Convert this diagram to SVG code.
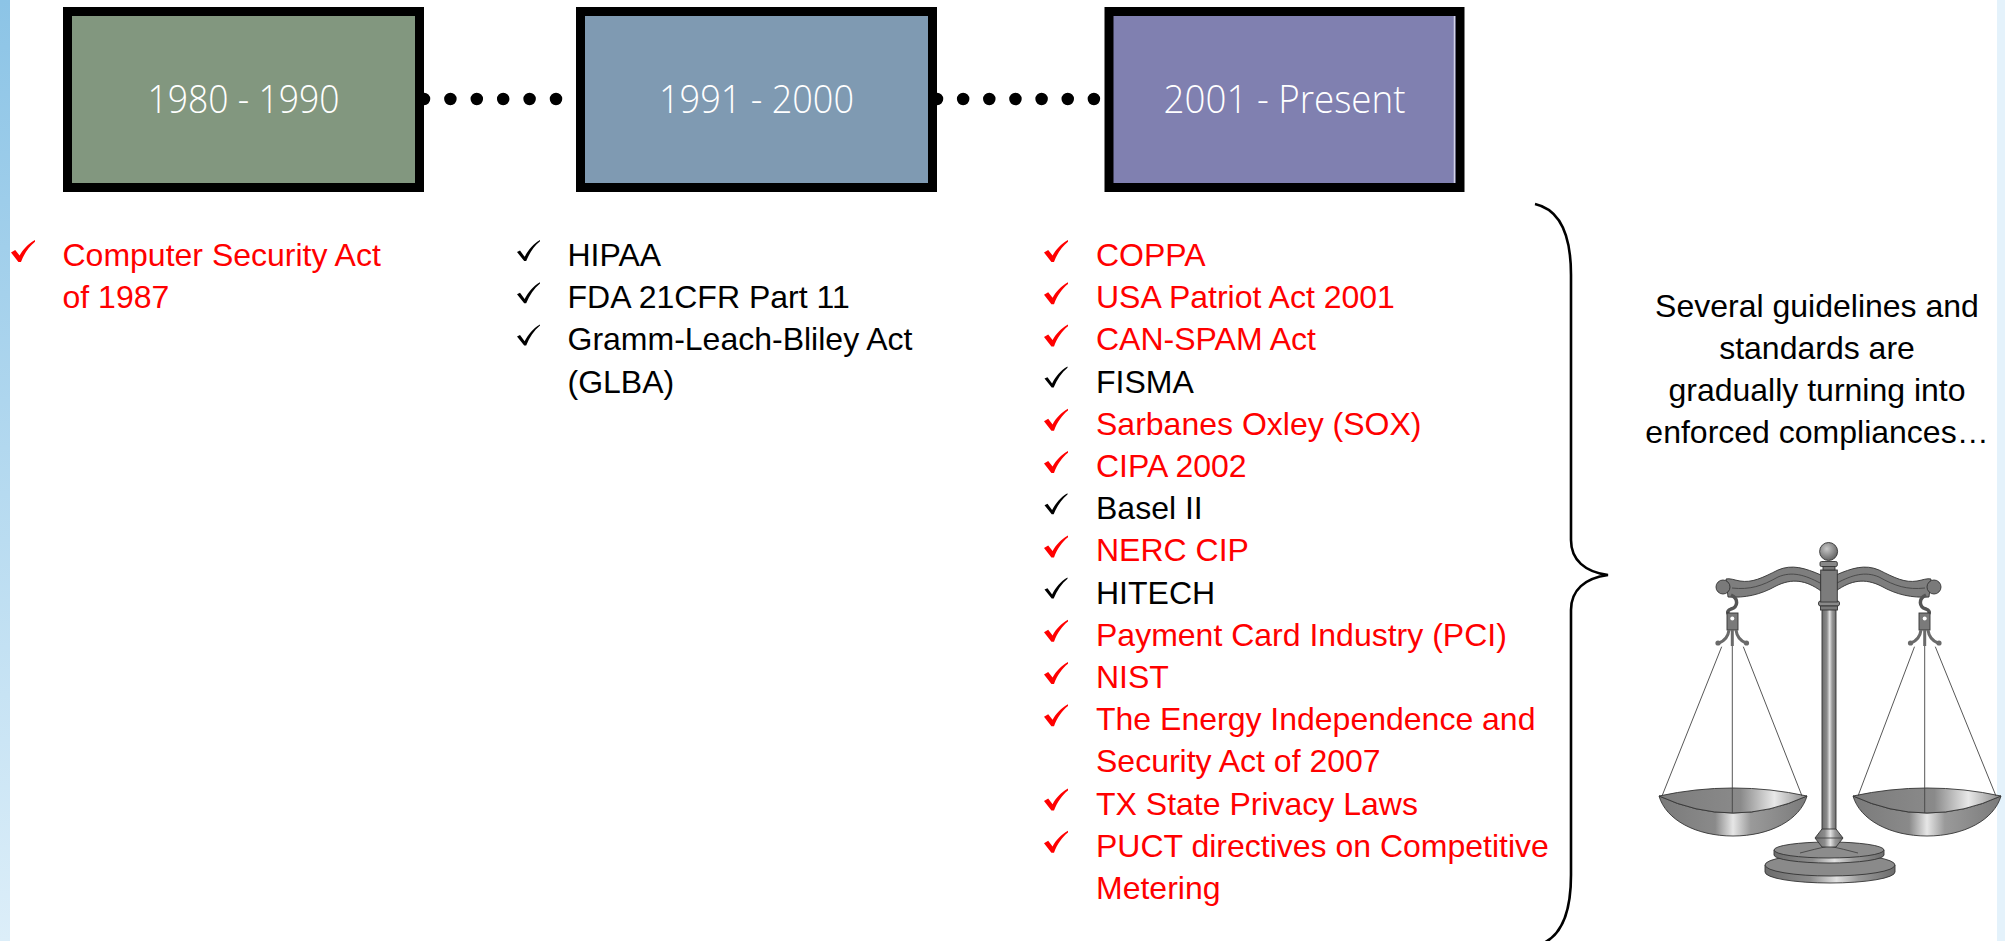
<svg xmlns="http://www.w3.org/2000/svg" width="2005" height="941" viewBox="0 0 2005 941">
<style>
.box{stroke:#000;stroke-width:9}
.hdr{font-family:"Open Sans","Liberation Sans",Arial,sans-serif;font-weight:300;font-size:39px;fill:#fff;text-anchor:middle}
.it{font-family:"Liberation Sans",Arial,sans-serif;font-size:32px}
.red{fill:#ff0000}
.blk{fill:#000}
.note{font-family:"Liberation Sans",Arial,sans-serif;font-size:32px;fill:#000;text-anchor:middle}
.dots{stroke:#000;stroke-width:12.5;stroke-linecap:round;fill:none}
.ol{stroke:#333;stroke-width:0.9}
.str{stroke:#444;stroke-width:0.9;fill:none}
</style>
<defs>
<linearGradient id="edge" x1="0" y1="0" x2="0" y2="1">
<stop offset="0" stop-color="#8cc4e6"/><stop offset="1" stop-color="#dceef9"/>
</linearGradient>
<path id="ckr" d="M0,12.5 L4.2,10 L8.6,15.6 C12,9.5 17,3.8 24,0 L24,1.8 C18,6.5 13.2,13.5 10,22 L7.4,22 Z" fill="#ff0000"/>
<path id="ckk" d="M0,12 L3,10.6 L7.6,16.8 C11.5,10 16,4 23,0 L23,1.2 C17,6 12.5,13 9.2,21 L7.2,21 Z" fill="#000"/>
<linearGradient id="metal" x1="0" y1="0" x2="1" y2="0">
<stop offset="0" stop-color="#6c6c6c"/><stop offset="0.35" stop-color="#8c8c8c"/><stop offset="0.55" stop-color="#e2e2e2"/><stop offset="0.72" stop-color="#9a9a9a"/><stop offset="1" stop-color="#6c6c6c"/>
</linearGradient>
<linearGradient id="bowl" x1="0" y1="0" x2="1" y2="0">
<stop offset="0" stop-color="#7a7a7a"/><stop offset="0.38" stop-color="#8a8a8a"/><stop offset="0.5" stop-color="#e6e6e6"/><stop offset="0.62" stop-color="#9a9a9a"/><stop offset="1" stop-color="#7a7a7a"/>
</linearGradient>
<linearGradient id="ptop" x1="0" y1="0" x2="1" y2="0">
<stop offset="0" stop-color="#7c7c7c"/><stop offset="0.55" stop-color="#8a8a8a"/><stop offset="0.78" stop-color="#e8e8e8"/><stop offset="1" stop-color="#8a8a8a"/>
</linearGradient>
<radialGradient id="ballg" cx="0.4" cy="0.35" r="0.7">
<stop offset="0" stop-color="#c8c8c8"/><stop offset="1" stop-color="#5e5e5e"/>
</radialGradient>
<g id="pan">
<path d="M-74,796 Q0,830 74,796 C67,820 37,836 0,836 C-37,836 -67,820 -74,796 Z" fill="url(#bowl)" class="ol"/>
<path d="M-74,796 Q0,780 74,796 Q0,830 -74,796 Z" fill="url(#ptop)" class="ol"/>
</g>
<g id="arm">
<path d="M1821,575 C1805,568 1792,564 1778,570 C1762,578 1752,583 1740,581 C1734,580 1730,578 1726,579 L1728,597 C1745,598 1760,595 1776,586 C1792,578 1806,580 1821,591 Z" fill="#7e7e7e" class="ol"/>
<path d="M1820,583 C1805,575 1792,571 1778,577 C1762,586 1750,590 1732,588" class="str"/>
<circle cx="1723" cy="587" r="7" fill="#7a7a7a" class="ol"/>
<path d="M1731,595 C1739,599 1738,607 1731,609 C1726,611 1727,615 1732,615" fill="none" stroke="#555" stroke-width="3.5"/>
<rect x="1727" y="613" width="11" height="17" fill="#7a7a7a" class="ol"/>
<circle cx="1732.3" cy="618.5" r="2" fill="#fff"/>
<path d="M1729,630 C1728,638 1724,641 1719,643 M1736,630 C1737,638 1741,641 1746,643 M1732.3,630 L1732.3,646" fill="none" stroke="#6a6a6a" stroke-width="3"/>
<circle cx="1718" cy="643" r="2.6" fill="#6a6a6a"/>
<circle cx="1746.5" cy="643" r="2.6" fill="#6a6a6a"/>
</g>
</defs>

<rect x="0" y="0" width="2005" height="941" fill="#fff"/>
<rect x="0" y="0" width="10" height="941" fill="url(#edge)"/>
<rect x="1997" y="0" width="8" height="941" fill="#e4f2fb"/>

<g id="connectors">
<line class="dots" x1="424" y1="99" x2="556.5" y2="99" stroke-dasharray="0 26.4"/>
<line class="dots" x1="937" y1="99" x2="1094.5" y2="99" stroke-dasharray="0 26.15"/>
<path id="brace" d="M1535,204 C1562,210 1571,240 1571,275 L1571,540 C1571,560 1585,572 1608,575 C1585,578 1571,590 1571,610 L1571,875 C1571,910 1562,940 1535,946" fill="none" stroke="#000" stroke-width="2.6"/>
</g>

<g id="node-1980">
<rect class="box" x="67.5" y="11.5" width="352" height="176" fill="#82977f"/>
<text class="hdr" x="243.5" y="113" textLength="192" lengthAdjust="spacingAndGlyphs">1980 - 1990</text>
</g>
<g id="node-1991">
<rect class="box" x="580.5" y="11.5" width="352" height="176" fill="#7f9ab2"/>
<text class="hdr" x="756.5" y="113" textLength="195" lengthAdjust="spacingAndGlyphs">1991 - 2000</text>
</g>
<g id="node-2001">
<rect class="box" x="1109" y="11.5" width="351" height="176" fill="#8080b0"/>
<line x1="1454.5" y1="16" x2="1454.5" y2="183" stroke="#d4d4ea" stroke-width="1.5"/>
<text class="hdr" x="1284.5" y="113" textLength="242" lengthAdjust="spacingAndGlyphs">2001 - Present</text>
</g>

<g id="list-1980">
<use href="#ckr" x="11" y="240"/>
<text class="it red" x="62.5" y="266">Computer Security Act</text>
<text class="it red" x="62.5" y="308.2">of 1987</text>
</g>

<g id="list-1991">
<use href="#ckk" x="517" y="240"/>
<use href="#ckk" x="517" y="282.2"/>
<use href="#ckk" x="517" y="324.4"/>
<text class="it blk" x="567.5" y="266">HIPAA</text>
<text class="it blk" x="567.5" y="308.2">FDA 21CFR Part 11</text>
<text class="it blk" x="567.5" y="350.4">Gramm-Leach-Bliley Act</text>
<text class="it blk" x="567.5" y="392.6">(GLBA)</text>
</g>

<g id="list-2001">
<use href="#ckr" x="1044" y="240"/>
<use href="#ckr" x="1044" y="282.2"/>
<use href="#ckr" x="1044" y="324.4"/>
<use href="#ckk" x="1044.5" y="366.6"/>
<use href="#ckr" x="1044" y="408.8"/>
<use href="#ckr" x="1044" y="451"/>
<use href="#ckk" x="1044.5" y="493.2"/>
<use href="#ckr" x="1044" y="535.4"/>
<use href="#ckk" x="1044.5" y="577.6"/>
<use href="#ckr" x="1044" y="619.8"/>
<use href="#ckr" x="1044" y="662"/>
<use href="#ckr" x="1044" y="704.2"/>
<use href="#ckr" x="1044" y="788.6"/>
<use href="#ckr" x="1044" y="830.8"/>
<text class="it red" x="1096" y="266">COPPA</text>
<text class="it red" x="1096" y="308.2">USA Patriot Act 2001</text>
<text class="it red" x="1096" y="350.4">CAN-SPAM Act</text>
<text class="it blk" x="1096" y="392.6">FISMA</text>
<text class="it red" x="1096" y="434.8">Sarbanes Oxley (SOX)</text>
<text class="it red" x="1096" y="477">CIPA 2002</text>
<text class="it blk" x="1096" y="519.2">Basel II</text>
<text class="it red" x="1096" y="561.4">NERC CIP</text>
<text class="it blk" x="1096" y="603.6">HITECH</text>
<text class="it red" x="1096" y="645.8">Payment Card Industry (PCI)</text>
<text class="it red" x="1096" y="688">NIST</text>
<text class="it red" x="1096" y="730.2">The Energy Independence and</text>
<text class="it red" x="1096" y="772.4">Security Act of 2007</text>
<text class="it red" x="1096" y="814.6">TX State Privacy Laws</text>
<text class="it red" x="1096" y="856.8">PUCT directives on Competitive</text>
<text class="it red" x="1096" y="899">Metering</text>
</g>

<g id="note">
<text class="note" x="1817" y="317">Several guidelines and</text>
<text class="note" x="1817" y="359">standards are</text>
<text class="note" x="1817" y="401">gradually turning into</text>
<text class="note" x="1817" y="443">enforced compliances…</text>
</g>

<g id="scales">
<path d="M1765,865 L1765,872 A65,11 0 0 0 1895,872 L1895,865 Z" fill="url(#metal)" class="ol"/>
<ellipse cx="1830" cy="865" rx="65" ry="11" fill="#8a8a8a" class="ol"/>
<path d="M1774,850 L1774,855 A55,8 0 0 0 1884,855 L1884,850 Z" fill="url(#metal)" class="ol"/>
<ellipse cx="1829" cy="850" rx="55" ry="8" fill="#8c8c8c" class="ol"/>
<path d="M1800,853 Q1815,849 1829,846 Q1843,849 1858,853" class="str"/>
<rect x="1822" y="606" width="14" height="225" fill="url(#metal)" class="ol"/>
<path d="M1815,838 L1822,829 L1836,829 L1843,838 L1836,847 L1822,847 Z" fill="url(#metal)" class="ol"/>
<line x1="1815" y1="838" x2="1843" y2="838" class="str"/>
<rect x="1818.5" y="601" width="21" height="5" rx="2" fill="#8a8a8a" class="ol"/>
<rect x="1820.5" y="606" width="17" height="4" fill="#7a7a7a" class="ol"/>
<use href="#arm"/>
<use href="#arm" transform="translate(3657,0) scale(-1,1)"/>
<rect x="1820.7" y="570" width="16.6" height="32" fill="#7c7c7c" class="ol"/>
<rect x="1823" y="566" width="12" height="4" fill="#777" class="ol"/>
<rect x="1820" y="561.5" width="17.3" height="5" rx="1.5" fill="#888" class="ol"/>
<circle cx="1828.6" cy="551.5" r="9" fill="url(#ballg)" class="ol"/>
<use href="#pan" x="1733"/>
<use href="#pan" x="1927"/>
<path class="str" d="M1721.7,646.7 L1662,796 M1732.3,646 L1732.3,813 M1743.3,646.7 L1802,796"/>
<path class="str" d="M1914.5,646.7 L1858,796 M1924.7,646 L1924.7,813 M1935.3,646.7 L1996,796"/>
</g>
</svg>
